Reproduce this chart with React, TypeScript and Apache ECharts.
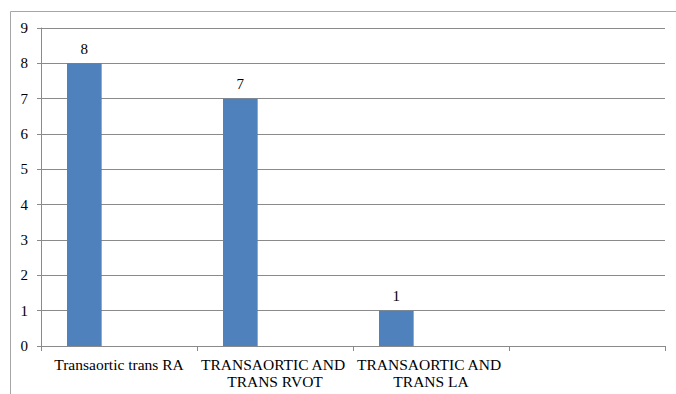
import React, { useEffect, useRef } from "react";
import * as echarts from "echarts";

const categories = [
  "Transaortic trans RA",
  "TRANSAORTIC AND TRANS RVOT",
  "TRANSAORTIC AND TRANS LA",
  "",
];
const series1Values: (number | null)[] = [8, 7, 1, null];
const series2Values: (number | null)[] = [null, null, null, null];
const series3Values: (number | null)[] = [null, null, null, null];
const yTicks = { min: 0, max: 9, interval: 1 };

const FONT = "Liberation Serif, Times New Roman, serif";
const GRID_COLOR = "#8a8a8a";
const BAR_COLOR = "#4f81bd";

export default function App() {
  const ref = useRef<HTMLDivElement>(null);
  useEffect(() => {
    if (!ref.current) return;
    const chart = echarts.init(ref.current, undefined, { renderer: "svg" });
    chart.setOption({
      animation: false,
      backgroundColor: "#ffffff",
      textStyle: { fontFamily: FONT },
      graphic: [
        {
          type: "rect",
          shape: { x: 10.5, y: 11.5, width: 720, height: 420 },
          style: { fill: "none", stroke: "#a6a6a6", lineWidth: 1 },
          silent: true,
        },
      ],
      grid: { left: 41, right: 11, top: 28, bottom: 48, containLabel: false },
      xAxis: {
        type: "category",
        data: categories,
        axisLine: { show: true, lineStyle: { color: GRID_COLOR, width: 1 } },
        axisTick: {
          show: true,
          interval: 0,
          length: 5,
          alignWithLabel: false,
          lineStyle: { color: GRID_COLOR },
        },
        axisLabel: {
          interval: 0,
          margin: 10,
          color: "#000000",
          fontFamily: FONT,
          fontSize: 15.5,
          lineHeight: 17,
          width: 152,
          overflow: "break",
        },
        splitLine: { show: false },
      },
      yAxis: {
        type: "value",
        min: yTicks.min,
        max: yTicks.max,
        interval: yTicks.interval,
        axisLine: { show: true, lineStyle: { color: GRID_COLOR, width: 1 } },
        axisTick: { show: true, length: 4, lineStyle: { color: GRID_COLOR } },
        axisLabel: {
          margin: 13,
          color: "#000000",
          fontFamily: FONT,
          fontSize: 15,
        },
        splitLine: { show: true, lineStyle: { color: GRID_COLOR, width: 1 } },
      },
      series: [
        {
          name: "Series 1",
          type: "bar",
          data: series1Values,
          barGap: "0%",
          barCategoryGap: "33.333%",
          itemStyle: { color: BAR_COLOR },
          label: {
            show: true,
            position: "top",
            distance: 7,
            color: "#000000",
            fontFamily: FONT,
            fontSize: 15,
          },
        },
        {
          name: "Series 2",
          type: "bar",
          data: series2Values,
          barGap: "0%",
          barCategoryGap: "33.333%",
          itemStyle: { color: "#c0504d" },
        },
        {
          name: "Series 3",
          type: "bar",
          data: series3Values,
          barGap: "0%",
          barCategoryGap: "33.333%",
          itemStyle: { color: "#9bbb59" },
        },
      ],
    });
    return () => chart.dispose();
  }, []);
  return (
    <div
      ref={ref}
      style={{ position: "fixed", left: 0, top: 0, width: 676, height: 394 }}
    />
  );
}
